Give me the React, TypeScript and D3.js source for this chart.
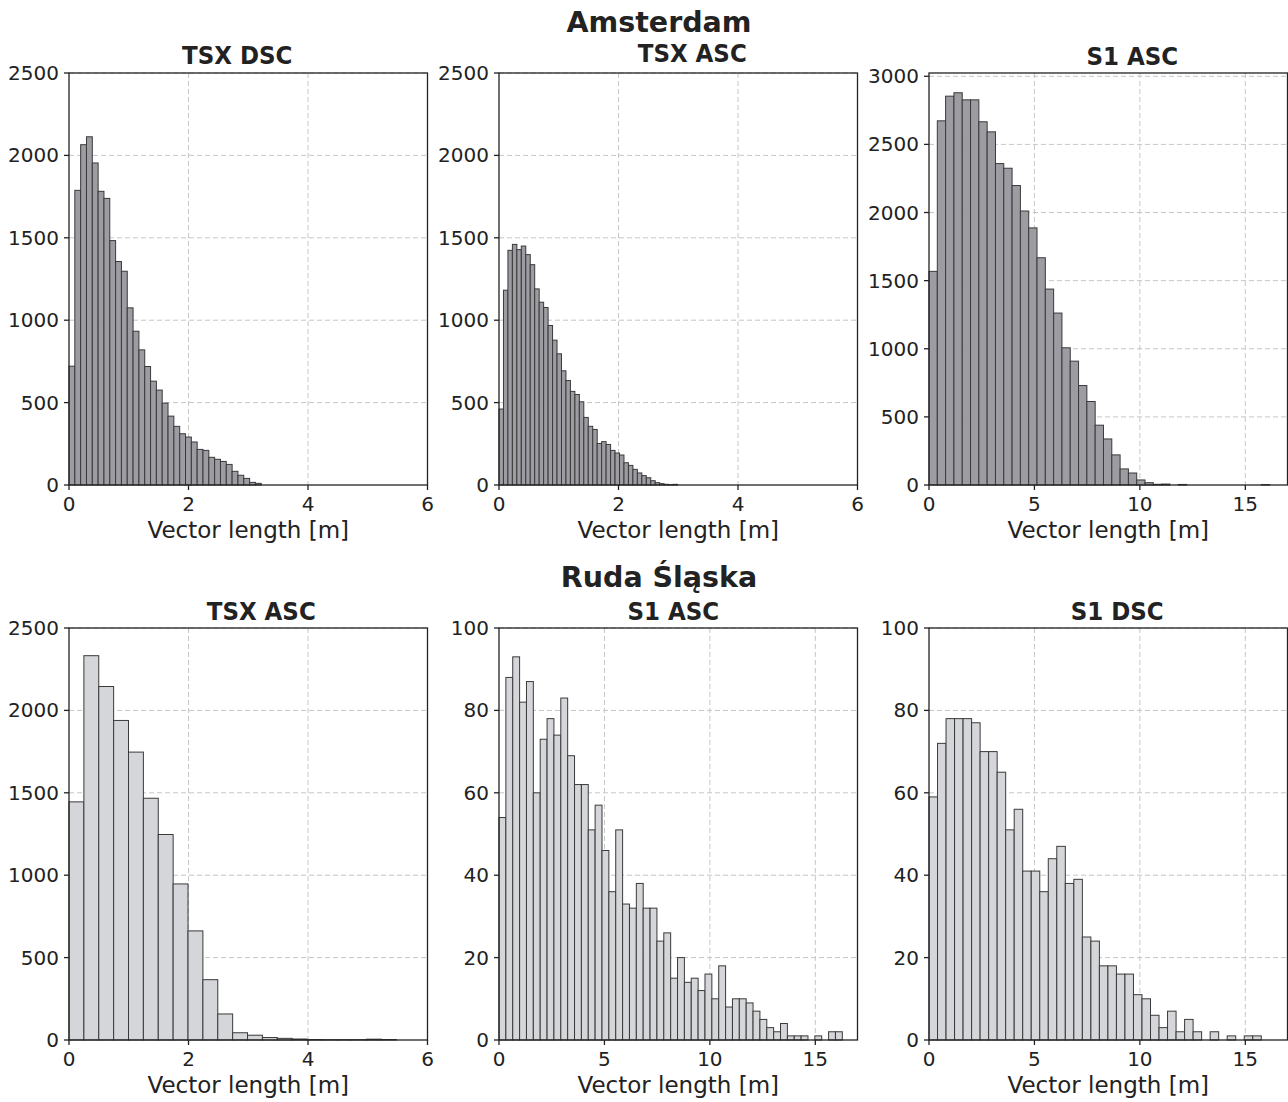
import * as d3 from 'd3';

const WIDTH = 1288;
const HEIGHT = 1102;

// counts per bin (left to right)
const amsTsxDsc = [721, 1788, 2065, 2113, 1954, 1782, 1739, 1483, 1356, 1297, 1075, 933, 820, 719, 630, 576, 497, 418, 356, 311, 291, 261, 216, 210, 168, 156, 143, 125, 83, 59, 40, 16, 10];
const amsTsxAsc = [461, 1182, 1424, 1460, 1428, 1450, 1398, 1337, 1190, 1109, 1077, 968, 879, 796, 693, 634, 568, 549, 505, 410, 356, 337, 252, 263, 246, 210, 194, 182, 135, 119, 95, 73, 57, 44, 26, 14, 8, 4, 2, 4];
const amsS1Asc = [1568, 2673, 2854, 2879, 2827, 2827, 2666, 2592, 2359, 2325, 2198, 2011, 1887, 1668, 1438, 1262, 1007, 909, 730, 613, 439, 338, 221, 118, 88, 37, 17, 5, 7, 0, 4, 0, 0, 0, 0, 0, 0, 0, 0, 0, 3];
const rudaTsxAsc = [1445, 2332, 2145, 1939, 1747, 1467, 1247, 947, 662, 366, 158, 44, 29, 15, 10, 6, 3, 2, 2, 2, 5, 3];
const rudaS1Asc = [54, 88, 93, 82, 87, 60, 73, 78, 74, 83, 69, 62, 62, 51, 57, 46, 36, 51, 33, 32, 38, 32, 32, 24, 26, 15, 20, 14, 15, 12, 16, 10, 18, 8, 10, 10, 9, 7, 5, 3, 2, 4, 1, 1, 1, 0, 1, 0, 2, 2];
const rudaS1Dsc = [59, 72, 78, 78, 78, 77, 70, 70, 65, 51, 56, 41, 41, 36, 44, 47, 38, 39, 25, 24, 18, 18, 16, 16, 11, 10, 6, 3, 7, 2, 5, 2, 0, 2, 0, 1, 0, 1, 1];

// bin widths in metres
const binAmsTsxDsc = 0.0975;
const binAmsTsxAsc = 0.0747;
const binAmsS1Asc = 0.394;
const binRudaTsxAsc = 0.249;
const binRudaS1Asc = 0.3256;
const binRudaS1Dsc = 0.404;

const xTicksTsx = [0, 2, 4, 6];
const xTicksS1 = [0, 5, 10, 15];
const yTicks2500 = [0, 500, 1000, 1500, 2000, 2500];
const yTicks3000 = [0, 500, 1000, 1500, 2000, 2500, 3000];
const yTicks100 = [0, 20, 40, 60, 80, 100];

const DARK = '#9c9ca2';
const LIGHT = '#d5d6d9';
const INK = '#222222';
const FONT = "'DejaVu Sans', sans-serif";
const TITLE_FONT = "'DejaVu Sans Condensed', 'DejaVu Sans', sans-serif";

type PanelSpec = {
    title: string;
    titleDx: number;
    titleY: number;
    counts: number[];
    bin: number;
    xMax: number;
    yMax: number;
    xTicks: number[];
    yTicks: number[];
    fill: string;
    left: number;
    top: number;
};

const PW = 358.5;
const PH = 412;

const panels: PanelSpec[] = [
    { title: 'TSX DSC', titleDx: -11, titleY: 64, counts: amsTsxDsc, bin: binAmsTsxDsc, xMax: 6, yMax: 2500, xTicks: xTicksTsx, yTicks: yTicks2500, fill: DARK, left: 69, top: 73 },
    { title: 'TSX ASC', titleDx: 14, titleY: 62, counts: amsTsxAsc, bin: binAmsTsxAsc, xMax: 6, yMax: 2500, xTicks: xTicksTsx, yTicks: yTicks2500, fill: DARK, left: 499, top: 73 },
    { title: 'S1 ASC', titleDx: 24, titleY: 65, counts: amsS1Asc, bin: binAmsS1Asc, xMax: 17, yMax: 3024, xTicks: xTicksS1, yTicks: yTicks3000, fill: DARK, left: 929, top: 73 },
    { title: 'TSX ASC', titleDx: 13, titleY: 620, counts: rudaTsxAsc, bin: binRudaTsxAsc, xMax: 6, yMax: 2500, xTicks: xTicksTsx, yTicks: yTicks2500, fill: LIGHT, left: 69, top: 628 },
    { title: 'S1 ASC', titleDx: -5, titleY: 620, counts: rudaS1Asc, bin: binRudaS1Asc, xMax: 17, yMax: 100, xTicks: xTicksS1, yTicks: yTicks100, fill: LIGHT, left: 499, top: 628 },
    { title: 'S1 DSC', titleDx: 9, titleY: 620, counts: rudaS1Dsc, bin: binRudaS1Dsc, xMax: 17, yMax: 100, xTicks: xTicksS1, yTicks: yTicks100, fill: LIGHT, left: 929, top: 628 },
];

function Panel({ p }: { p: PanelSpec }) {
    const x = d3.scaleLinear().domain([0, p.xMax]).range([p.left, p.left + PW]);
    const y = d3.scaleLinear().domain([0, p.yMax]).range([p.top + PH, p.top]);
    const bottom = p.top + PH;
    const right = p.left + PW;
    return (
        <g>
            {/* grid sits under the bars */}
            {p.xTicks.filter((t) => t > 0).map((t) => (
                <line key={'gx' + t} x1={x(t)} x2={x(t)} y1={p.top} y2={bottom} stroke="#c6c6c6" strokeWidth={1} strokeDasharray="5,3" />
            ))}
            {p.yTicks.filter((t) => t > 0).map((t) => (
                <line key={'gy' + t} x1={p.left} x2={right} y1={y(t)} y2={y(t)} stroke="#c6c6c6" strokeWidth={1} strokeDasharray="5,3" />
            ))}
            {p.counts.map((c, i) =>
                c > 0 ? (
                    <rect
                        key={i}
                        x={x(i * p.bin)}
                        y={y(c)}
                        width={x((i + 1) * p.bin) - x(i * p.bin)}
                        height={bottom - y(c)}
                        fill={p.fill}
                        stroke="#3a3a3a"
                        strokeWidth={1}
                    />
                ) : null,
            )}
            <rect x={p.left} y={p.top} width={PW} height={PH} fill="none" stroke={INK} strokeWidth={1.3} />
            {p.xTicks.map((t) => (
                <g key={'xt' + t}>
                    <line x1={x(t)} x2={x(t)} y1={bottom} y2={bottom + 5} stroke={INK} strokeWidth={1.3} />
                    <text x={x(t)} y={bottom + 26} textAnchor="middle" fontSize={20} fill={INK} fontFamily={FONT}>
                        {t}
                    </text>
                </g>
            ))}
            {p.yTicks.map((t) => (
                <g key={'yt' + t}>
                    <line x1={p.left - 5} x2={p.left} y1={y(t)} y2={y(t)} stroke={INK} strokeWidth={1.3} />
                    <text x={p.left - 10} y={y(t) + 7} textAnchor="end" fontSize={20} fill={INK} fontFamily={FONT}>
                        {t}
                    </text>
                </g>
            ))}
            <text x={(p.left + right) / 2} y={bottom + 53} textAnchor="middle" fontSize={23} fill={INK} fontFamily={FONT}>
                Vector length [m]
            </text>
            <text
                x={(p.left + right) / 2 + p.titleDx}
                y={p.titleY}
                textAnchor="middle"
                fontSize={25.5}
                fontWeight="bold"
                fill={INK}
                fontFamily={TITLE_FONT}
                style={{ fontStretch: 'condensed' }}
            >
                {p.title}
            </text>
        </g>
    );
}

export default function App() {
    return (
        <svg
            width={WIDTH}
            height={HEIGHT}
            style={{ position: 'absolute', left: 0, top: 0, background: '#fff' }}
        >
            <rect width={WIDTH} height={HEIGHT} fill="#fff" />
            <text x={659} y={32} textAnchor="middle" fontSize={28.5} fontWeight="bold" fill={INK} fontFamily={FONT}>
                Amsterdam
            </text>
            <text x={659} y={587} textAnchor="middle" fontSize={28.5} fontWeight="bold" fill={INK} fontFamily={FONT}>
                Ruda Śląska
            </text>
            {panels.map((p, i) => (
                <Panel key={i} p={p} />
            ))}
        </svg>
    );
}
